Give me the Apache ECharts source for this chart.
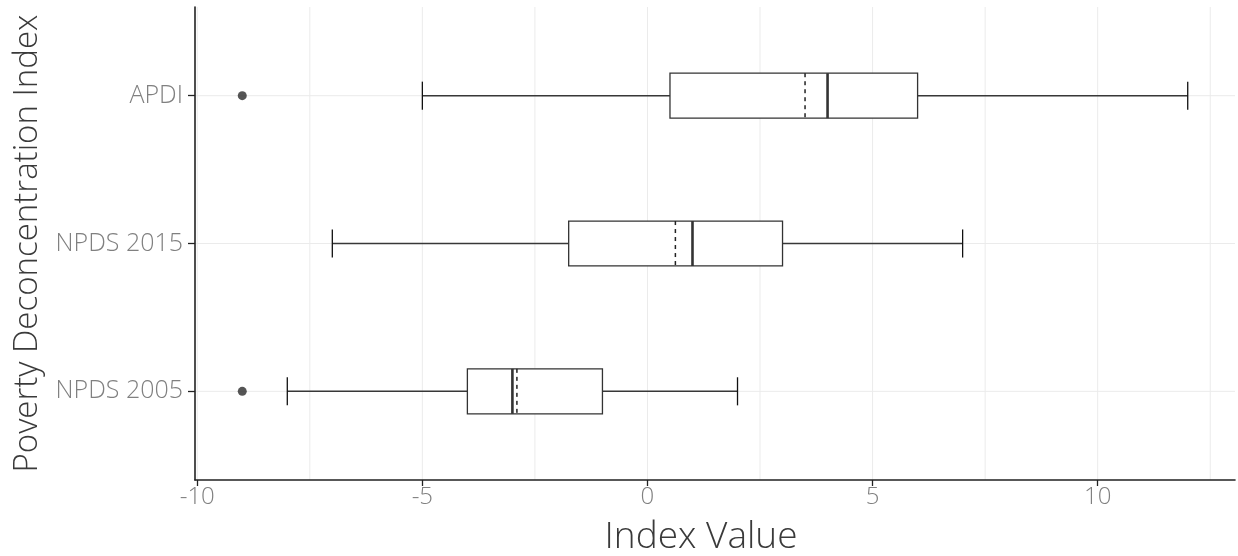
<!DOCTYPE html>
<html>
<head>
<meta charset="utf-8">
<title>Poverty Deconcentration Index</title>
<script src="https://cdn.jsdelivr.net/npm/echarts@6/dist/echarts.min.js"></script>
<style>
  html, body { margin: 0; padding: 0; background: #ffffff; }
  #chart { width: 1238px; height: 556px; }
</style>
</head>
<body>
<div id="chart"></div>
<script>
// Index summaries, bottom row first
const categories = ['NPDS 2005', 'NPDS 2015', 'APDI'];
const whiskerLow = [-8, -7, -5];
const lowerQuartile = [-4, -1.75, 0.5];
const medians = [-3, 1, 4];
const upperQuartile = [-1, 3, 6];
const whiskerHigh = [2, 7, 12];
const means = [-2.9, 0.62, 3.5];
// outliers: [value, category]
const outliers = [[-9, 'NPDS 2005'], [-9, 'APDI']];

const xTicks = [-10, -5, 0, 5, 10];
const xGrid = [-10, -7.5, -5, -2.5, 0, 2.5, 5, 7.5, 10, 12.5];
const yPositions = categories.map((c, i) => i + 1);

const FONT = '"Open Sans", "Noto Sans", sans-serif';
const BOX_HALF = 0.152;
const CAP_HALF = 0.095;

const boxData = categories.map((c, i) => [
  i + 1, whiskerLow[i], lowerQuartile[i], medians[i], upperQuartile[i], whiskerHigh[i], means[i]
]);

// grid lines: [direction (0 = vertical, 1 = horizontal), value]
const gridData = xGrid.map(v => [0, v]).concat(yPositions.map(v => [1, v]));

function renderGrid(params, api) {
  const dir = api.value(0), v = api.value(1);
  const cs = params.coordSys;
  let shape;
  if (dir === 0) {
    const x = api.coord([v, 1])[0];
    shape = { x1: x, y1: cs.y, x2: x, y2: cs.y + cs.height };
  } else {
    const y = api.coord([0, v])[1];
    shape = { x1: cs.x, y1: y, x2: cs.x + cs.width, y2: y };
  }
  return { type: 'line', shape, style: { stroke: '#ebebeb', lineWidth: 1 }, silent: true };
}

function renderBox(params, api) {
  const y = api.value(0);
  const lo = api.value(1), q1 = api.value(2), md = api.value(3),
        q3 = api.value(4), hi = api.value(5), mn = api.value(6);
  const c = (x, yy) => api.coord([x, yy]);
  const pLo = c(lo, y), pQ1 = c(q1, y), pQ3 = c(q3, y), pHi = c(hi, y);
  const top = c(q1, y + BOX_HALF)[1], bot = c(q1, y - BOX_HALF)[1];
  const capTop = c(lo, y + CAP_HALF)[1], capBot = c(lo, y - CAP_HALF)[1];
  const xMd = c(md, y)[0], xMn = c(mn, y)[0];
  const whisker = { stroke: '#383838', lineWidth: 1.4 };
  const cap = { stroke: '#111111', lineWidth: 1.3 };
  return {
    type: 'group',
    children: [
      { type: 'line', shape: { x1: pLo[0], y1: pLo[1], x2: pQ1[0], y2: pQ1[1] }, style: whisker },
      { type: 'line', shape: { x1: pQ3[0], y1: pQ3[1], x2: pHi[0], y2: pHi[1] }, style: whisker },
      { type: 'line', shape: { x1: pLo[0], y1: capTop, x2: pLo[0], y2: capBot }, style: cap },
      { type: 'line', shape: { x1: pHi[0], y1: capTop, x2: pHi[0], y2: capBot }, style: cap },
      { type: 'rect', shape: { x: pQ1[0], y: top, width: pQ3[0] - pQ1[0], height: bot - top },
        style: { fill: '#ffffff', stroke: '#333333', lineWidth: 1.3 } },
      { type: 'line', shape: { x1: xMd, y1: top, x2: xMd, y2: bot },
        style: { stroke: '#333333', lineWidth: 2.6 } },
      { type: 'line', shape: { x1: xMn, y1: top, x2: xMn, y2: bot },
        style: { stroke: '#222222', lineWidth: 1.5, lineDash: [4, 4] } }
    ]
  };
}

const chart = echarts.init(document.getElementById('chart'), null, { renderer: 'canvas' });

chart.setOption({
  animation: false,
  backgroundColor: '#ffffff',
  grid: { left: 195, right: 3, top: 7, bottom: 76, containLabel: false, outerBoundsMode: 'none' },
  xAxis: {
    type: 'value',
    min: -10.05,
    max: 13.05,
    name: 'Index Value',
    nameLocation: 'middle',
    nameGap: 39,
    nameTextStyle: {
      fontFamily: FONT, fontWeight: 300, fontSize: 37, color: '#3a3a3a',
      padding: [0, 28, 0, 0]
    },
    axisLine: { show: true, onZero: false, lineStyle: { color: '#222222', width: 1.6 } },
    axisTick: { show: true, length: 6, customValues: xTicks, lineStyle: { color: '#222222', width: 1.3 } },
    axisLabel: {
      customValues: xTicks, margin: 5,
      fontFamily: FONT, fontWeight: 300, fontSize: 24, color: '#808080'
    },
    splitLine: { show: false }
  },
  yAxis: {
    type: 'value',
    min: 0.4,
    max: 3.6,
    name: 'Poverty Deconcentration Index',
    nameLocation: 'middle',
    nameGap: 140,
    nameTextStyle: { fontFamily: FONT, fontWeight: 300, fontSize: 33, color: '#3a3a3a' },
    axisLine: { show: true, onZero: false, lineStyle: { color: '#222222', width: 1.6 } },
    axisTick: { show: true, length: 7, customValues: yPositions, lineStyle: { color: '#222222', width: 1.3 } },
    axisLabel: {
      customValues: yPositions, margin: 12,
      formatter: v => categories[Math.round(v) - 1] || '',
      fontFamily: FONT, fontWeight: 300, fontSize: 25, color: '#808080'
    },
    splitLine: { show: false }
  },
  series: [
    {
      type: 'custom',
      z: 0,
      silent: true,
      clip: true,
      renderItem: renderGrid,
      encode: { x: 1 },
      data: gridData
    },
    {
      type: 'custom',
      z: 3,
      renderItem: renderBox,
      encode: { x: [1, 2, 3, 4, 5, 6], y: 0 },
      data: boxData
    },
    {
      type: 'scatter',
      z: 4,
      symbol: 'circle',
      symbolSize: 9,
      itemStyle: { color: '#2b2b2b' },
      data: outliers.map(o => [o[0], categories.indexOf(o[1]) + 1])
    }
  ]
});
</script>
</body>
</html>
